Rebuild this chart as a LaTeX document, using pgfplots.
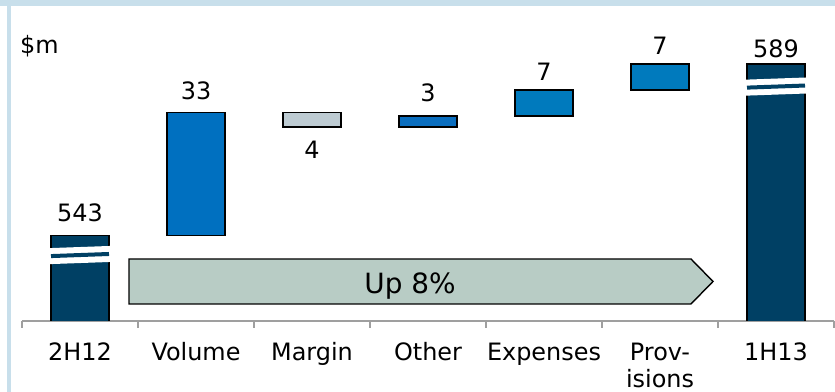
\documentclass[border=0pt]{standalone}
\usepackage{fontspec}
\setmainfont{DejaVu Sans}
\usepackage{pgfplots}
\pgfplotsset{compat=1.18}
\usepackage{pgfplotstable}
\definecolor{navy}{HTML}{004064}
\definecolor{vol}{HTML}{0070C0}
\definecolor{marg}{HTML}{BDCBD2}
\definecolor{oth}{HTML}{0A6EBF}
\definecolor{expc}{HTML}{007ABD}
\definecolor{arrowc}{HTML}{B8CCC5}
\definecolor{framec}{HTML}{C8DFEB}

\pgfplotstableread{
x base total vol marg oth exp
0 0 543 0 0 0 0
1 543 0 33 0 0 0
2 572 0 0 4 0 0
3 572 0 0 0 3 0
4 575 0 0 0 0 7
5 582 0 0 0 0 7
6 0 589 0 0 0 0
}\data

\begin{document}
\begin{tikzpicture}[font=\fontsize{24}{28}\selectfont]
\begin{axis}[
  scale only axis, width=812bp, height=321bp,
  xmin=-0.5, xmax=6.5, ymin=520, ymax=606.13,
  ybar stacked, bar width=0.5,
  axis x line*=bottom, axis y line=none, ytick=\empty,
  x axis line style={draw=gray!75, line width=1.2bp},
  xtick={0,...,6},
  xticklabels={\strut 2H12,\strut Volume,\strut Margin,\strut Other,\strut Expenses,{\strut Prov-\\isions},\strut 1H13},
  major tick length=0pt,
  minor xtick={-0.5,0.5,...,6.5}, minor tick length=7bp,
  tick align=outside,
  minor tick style={draw=gray!75, line width=1.2bp},
  xticklabel style={font=\fontsize{24}{26}\selectfont, align=center, yshift=-17.5bp},
  clip mode=individual,
]
\addplot[draw=none, fill=none] table[x=x,y=base]{\data};
\addplot[fill=navy, draw=black, line width=1.5bp] table[x=x,y=total]{\data};
\addplot[fill=vol, draw=black, line width=1.5bp] table[x=x,y=vol]{\data};
\addplot[fill=marg, draw=black, line width=1.5bp] table[x=x,y=marg]{\data};
\addplot[fill=oth, draw=black, line width=1.5bp] table[x=x,y=oth]{\data};
\addplot[fill=expc, draw=black, line width=1.5bp] table[x=x,y=exp]{\data};

\addplot[stack plots=false, sharp plot, fill=arrowc, draw=black, line width=1.4bp, forget plot]
  coordinates {(0.4224,524.56) (5.267,524.56) (5.457,530.6) (5.267,536.64) (0.4224,536.64)} --cycle;

% positions of the axis break marks and of the arrow's text
\coordinate (w1a) at (axis cs:-0.27,537.4);
\coordinate (w1b) at (axis cs:0.27,538.0);
\coordinate (n1a) at (axis cs:-0.25,537.42);
\coordinate (n1b) at (axis cs:0.25,537.98);
\coordinate (w2a) at (axis cs:5.73,582.6);
\coordinate (w2b) at (axis cs:6.27,583.2);
\coordinate (n2a) at (axis cs:5.75,582.62);
\coordinate (n2b) at (axis cs:6.25,583.18);
\coordinate (up) at (axis cs:2.845,527.5);

\node[anchor=base] at (axis cs:0,546.56) {543};
\node[anchor=base] at (axis cs:1,579.3) {33};
\node[anchor=base] at (axis cs:2,563.7) {4};
\node[anchor=base] at (axis cs:3,579.0) {3};
\node[anchor=base] at (axis cs:4,584.4) {7};
\node[anchor=base] at (axis cs:5,591.4) {7};
\node[anchor=base] at (axis cs:6,590.8) {589};
\node[anchor=base west, inner sep=0pt] at (axis cs:-0.517,591.9) {\$m};

\coordinate (bl) at (axis cs:-0.6897,500.95);
\coordinate (tr) at (axis cs:6.5086,606.13);
\end{axis}
\draw[white, line width=16bp] (w1a) -- (w1b);
\draw[navy, line width=4bp] (n1a) -- (n1b);
\draw[white, line width=16bp] (w2a) -- (w2b);
\draw[navy, line width=4bp] (n2a) -- (n2b);
\node[anchor=base, font=\fontsize{28}{32}\selectfont] at (up) {Up 8\%};
\pgfresetboundingbox
\path[use as bounding box] (bl) rectangle (tr);
\fill[framec] (bl) ++(7bp,0) rectangle ++(4bp,392bp);
\fill[framec] (bl) ++(0,385.5bp) rectangle ++(835bp,6.5bp);
\end{tikzpicture}
\end{document}
